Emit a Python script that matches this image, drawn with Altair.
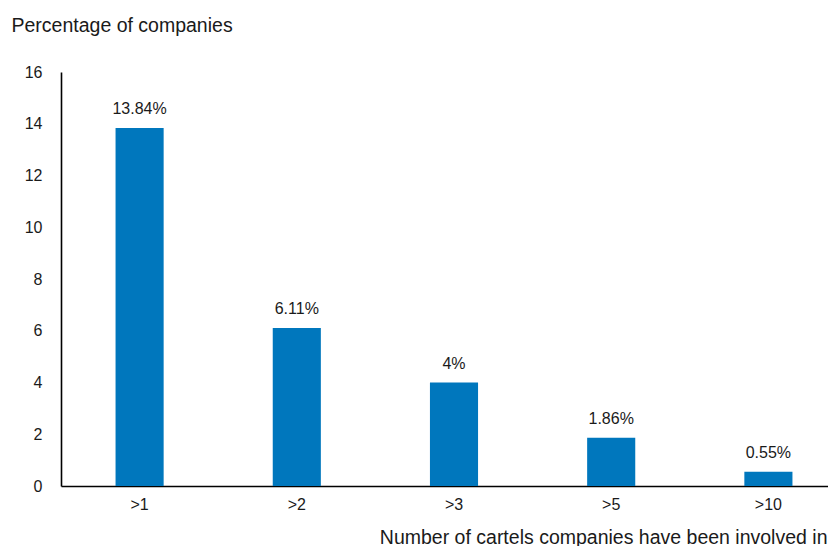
import altair as alt
import pandas as pd

categories = [">1", ">2", ">3", ">5", ">10"]
values = [13.84, 6.11, 4, 1.86, 0.55]
labels = ["13.84%", "6.11%", "4%", "1.86%", "0.55%"]
y_ticks = [0, 2, 4, 6, 8, 10, 12, 14, 16]

df = pd.DataFrame({"cat": categories, "val": values, "lab": labels})

FONT = "Liberation Sans, Arial, sans-serif"
TXT = "#1a1a1a"

x = alt.X(
    "cat:N",
    sort=categories,
    scale=alt.Scale(range=[0, 786], paddingInner=0.694, paddingOuter=0.347),
    axis=alt.Axis(
        title="Number of cartels companies have been involved in",
        labelAngle=0,
        ticks=False,
        labelPadding=10,
        labelFont=FONT,
        labelFontSize=16,
        labelColor=TXT,
        domainColor="#000000",
        domainWidth=1.6,
        titleFont=FONT,
        titleFontSize=19.5,
        titleFontWeight="normal",
        titleColor=TXT,
        titleX=766,
        titleY=57,
        titleAlign="right",
        titleBaseline="alphabetic",
    ),
)

y = alt.Y(
    "val:Q",
    scale=alt.Scale(domain=[0, 16]),
    axis=alt.Axis(
        values=y_ticks,
        grid=False,
        ticks=False,
        labelPadding=19,
        labelFont=FONT,
        labelFontSize=16,
        labelColor=TXT,
        domainColor="#000000",
        domainWidth=1.6,
        title="Percentage of companies",
        titleFont=FONT,
        titleFontSize=19.5,
        titleFontWeight="normal",
        titleColor=TXT,
        titleAngle=0,
        titleAlign="left",
        titleX=-50,
        titleY=-41,
        titleBaseline="alphabetic",
    ),
)

base = alt.Chart(df)
bars = base.mark_bar(color="#0077BD").encode(x=x, y=y)
text = base.mark_text(
    font=FONT, fontSize=16, color=TXT, baseline="alphabetic", dy=-14
).encode(x=alt.X("cat:N", sort=categories), y="val:Q", text="lab:N")

chart = (
    alt.layer(bars, text)
    .properties(
        width=767,
        height=414,
        padding={"left": 53, "top": 64, "right": 0, "bottom": 60},
        autosize="none",
    )
    .configure_view(stroke=None)
)

chart.save("out.html", embed_options={"renderer": "svg", "actions": False})
